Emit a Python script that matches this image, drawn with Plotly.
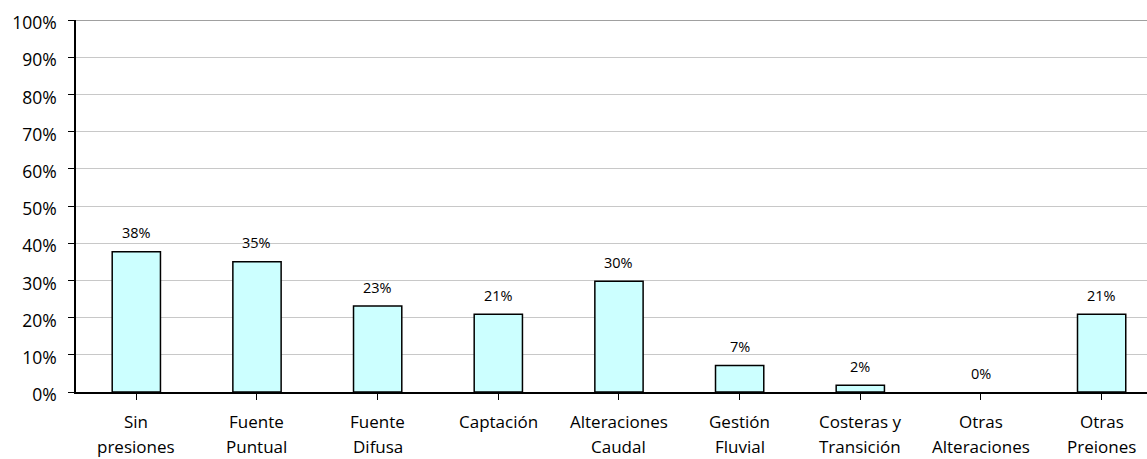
import plotly.graph_objects as go

categories = ["Sin<br>presiones", "Fuente<br>Puntual", "Fuente<br>Difusa", "Captación",
              "Alteraciones<br>Caudal", "Gestión<br>Fluvial", "Costeras y<br>Transición",
              "Otras<br>Alteraciones", "Otras<br>Preiones"]
values = [0.377, 0.35, 0.231, 0.209, 0.298, 0.071, 0.018, 0.0, 0.209]
y_ticks = [i / 10 for i in range(11)]

FONT = "Open Sans"
x = list(range(len(categories)))

fig = go.Figure()
fig.add_trace(go.Bar(
    x=x, y=values, width=0.4,
    marker=dict(color="#CCFFFF",
                line=dict(color="#000000", width=[1.5 if v > 0 else 0 for v in values])),
    hoverinfo="skip",
))

# data labels
for xi, v in zip(x, values):
    fig.add_annotation(x=xi, y=v, text=f"{v:.0%}", showarrow=False,
                       yshift=19, yanchor="middle",
                       font=dict(family=FONT, size=14.5, color="#000000"))

# category labels (two lines with wide line spacing)
for xi, cat in zip(x, categories):
    for li, line in enumerate(cat.split("<br>")):
        fig.add_annotation(x=xi, xref="x", y=0, yref="paper", text=line,
                           showarrow=False, yanchor="middle",
                           yshift=-29 - 25 * li,
                           font=dict(family=FONT, size=17, color="#000000"))

fig.add_shape(type="line", xref="paper", yref="y", x0=0, x1=1, y0=1, y1=1,
              line=dict(color="#808080", width=1.5), layer="below")

fig.update_layout(
    width=1147, height=459,
    margin=dict(l=76, r=0, t=20, b=67),
    paper_bgcolor="white", plot_bgcolor="white",
    showlegend=False,
    font=dict(family=FONT, size=17, color="#000000"),
    bargap=0.6,
)
fig.update_xaxes(
    range=[-0.5, 8.376], tickmode="array", tickvals=x, showticklabels=False,
    showline=True, linecolor="#000000", linewidth=1.5,
    ticks="outside", tickson="boundaries", ticklen=6, tickcolor="#000000",
    showgrid=False, zeroline=False,
)
fig.update_yaxes(
    range=[0, 1], tickmode="array", tickvals=y_ticks, tickformat=".0%",
    showline=True, linecolor="#000000", linewidth=1.5,
    ticks="outside", ticklen=6, tickcolor="#000000",
    ticklabelstandoff=8, ticklabelshift=3,
    showgrid=True, gridcolor="#C8C8C8", gridwidth=1, zeroline=False,
    tickfont=dict(family=FONT, size=17.5, color="#000000"),
)

fig.write_html("out.html")
